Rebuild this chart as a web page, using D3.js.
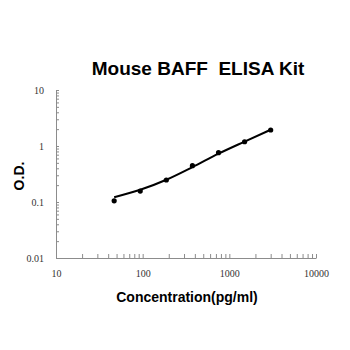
<!DOCTYPE html>
<html>
<head>
<meta charset="utf-8">
<script src="https://cdn.jsdelivr.net/npm/d3@7"></script>
<style>
  body { margin: 0; background: #fff; }
</style>
</head>
<body>
<div id="chart"></div>
<script>
// data
var concentrations = [46.9, 93.75, 187.5, 375, 750, 1500, 3000];
var odValues = [0.105, 0.157, 0.247, 0.445, 0.76, 1.19, 1.93];
var fitValues = [0.122, 0.165, 0.25, 0.42, 0.73, 1.2, 1.95];
var xTickLabels = [10, 100, 1000, 10000];
var yTickLabels = [0.01, 0.1, 1, 10];

var width = 350, height = 350;

var svg = d3.select("#chart")
  .append("svg")
    .attr("width", width)
    .attr("height", height);

var x = d3.scaleLog().domain([10, 10000]).range([56, 316]);
var y = d3.scaleLog().domain([0.01, 10]).range([258, 90]);

// minor ticks 1..9 per decade
function allTicks(labels) {
  var t = [];
  labels.forEach(function(d, i) {
    if (i == labels.length - 1) { t.push(d); return; }
    for (var k = 1; k < 10; k++) t.push(+(d * k).toPrecision(3));
  });
  return t;
}

var xAxis = svg.append("g")
  .attr("transform", "translate(0," + 258 + ")")
  .call(d3.axisBottom(x)
    .tickValues(allTicks(xTickLabels))
    .tickSizeInner(-4)
    .tickSizeOuter(0)
    .tickPadding(12)
    .tickFormat(function(d) { return xTickLabels.indexOf(d) >= 0 ? d : ""; }));

var yAxis = svg.append("g")
  .attr("transform", "translate(" + 56 + ",0)")
  .call(d3.axisLeft(y)
    .tickValues(allTicks(yTickLabels))
    .tickSizeInner(-3)
    .tickSizeOuter(0)
    .tickPadding(12)
    .tickFormat(function(d) { return yTickLabels.indexOf(d) >= 0 ? d : ""; }));

svg.selectAll(".domain").attr("stroke", "#8c8c8c");
svg.selectAll(".tick line").attr("stroke", "#8c8c8c");
svg.selectAll(".tick text")
  .attr("font-family", "Liberation Serif, serif")
  .attr("font-size", 10)
  .attr("fill", "#333");

// fitted curve
svg.append("path")
  .datum(concentrations.map(function(c, i) { return [c, fitValues[i]]; }))
  .attr("fill", "none")
  .attr("stroke", "black")
  .attr("stroke-width", 2)
  .attr("d", d3.line()
    .curve(d3.curveMonotoneX)
    .x(function(d) { return x(d[0]); })
    .y(function(d) { return y(d[1]); }));

// points
svg.selectAll("circle")
  .data(concentrations)
  .enter()
  .append("circle")
    .attr("cx", function(d) { return x(d); })
    .attr("cy", function(d, i) { return y(odValues[i]); })
    .attr("r", 2.6)
    .attr("fill", "black");

// title
svg.append("text")
  .attr("x", 198)
  .attr("y", 75)
  .attr("text-anchor", "middle")
  .attr("font-family", "Liberation Sans, Arial, sans-serif")
  .attr("font-weight", "bold")
  .attr("font-size", 19)
  .attr("xml:space", "preserve")
  .text("Mouse BAFF  ELISA Kit");

// axis labels
svg.append("text")
  .attr("x", 187)
  .attr("y", 302)
  .attr("text-anchor", "middle")
  .attr("font-family", "Liberation Sans, Arial, sans-serif")
  .attr("font-weight", "bold")
  .attr("font-size", 14)
  .text("Concentration(pg/ml)");

svg.append("text")
  .attr("transform", "translate(24,176) rotate(-90)")
  .attr("text-anchor", "middle")
  .attr("font-family", "Liberation Sans, Arial, sans-serif")
  .attr("font-weight", "bold")
  .attr("font-size", 14)
  .text("O.D.");
</script>
</body>
</html>
